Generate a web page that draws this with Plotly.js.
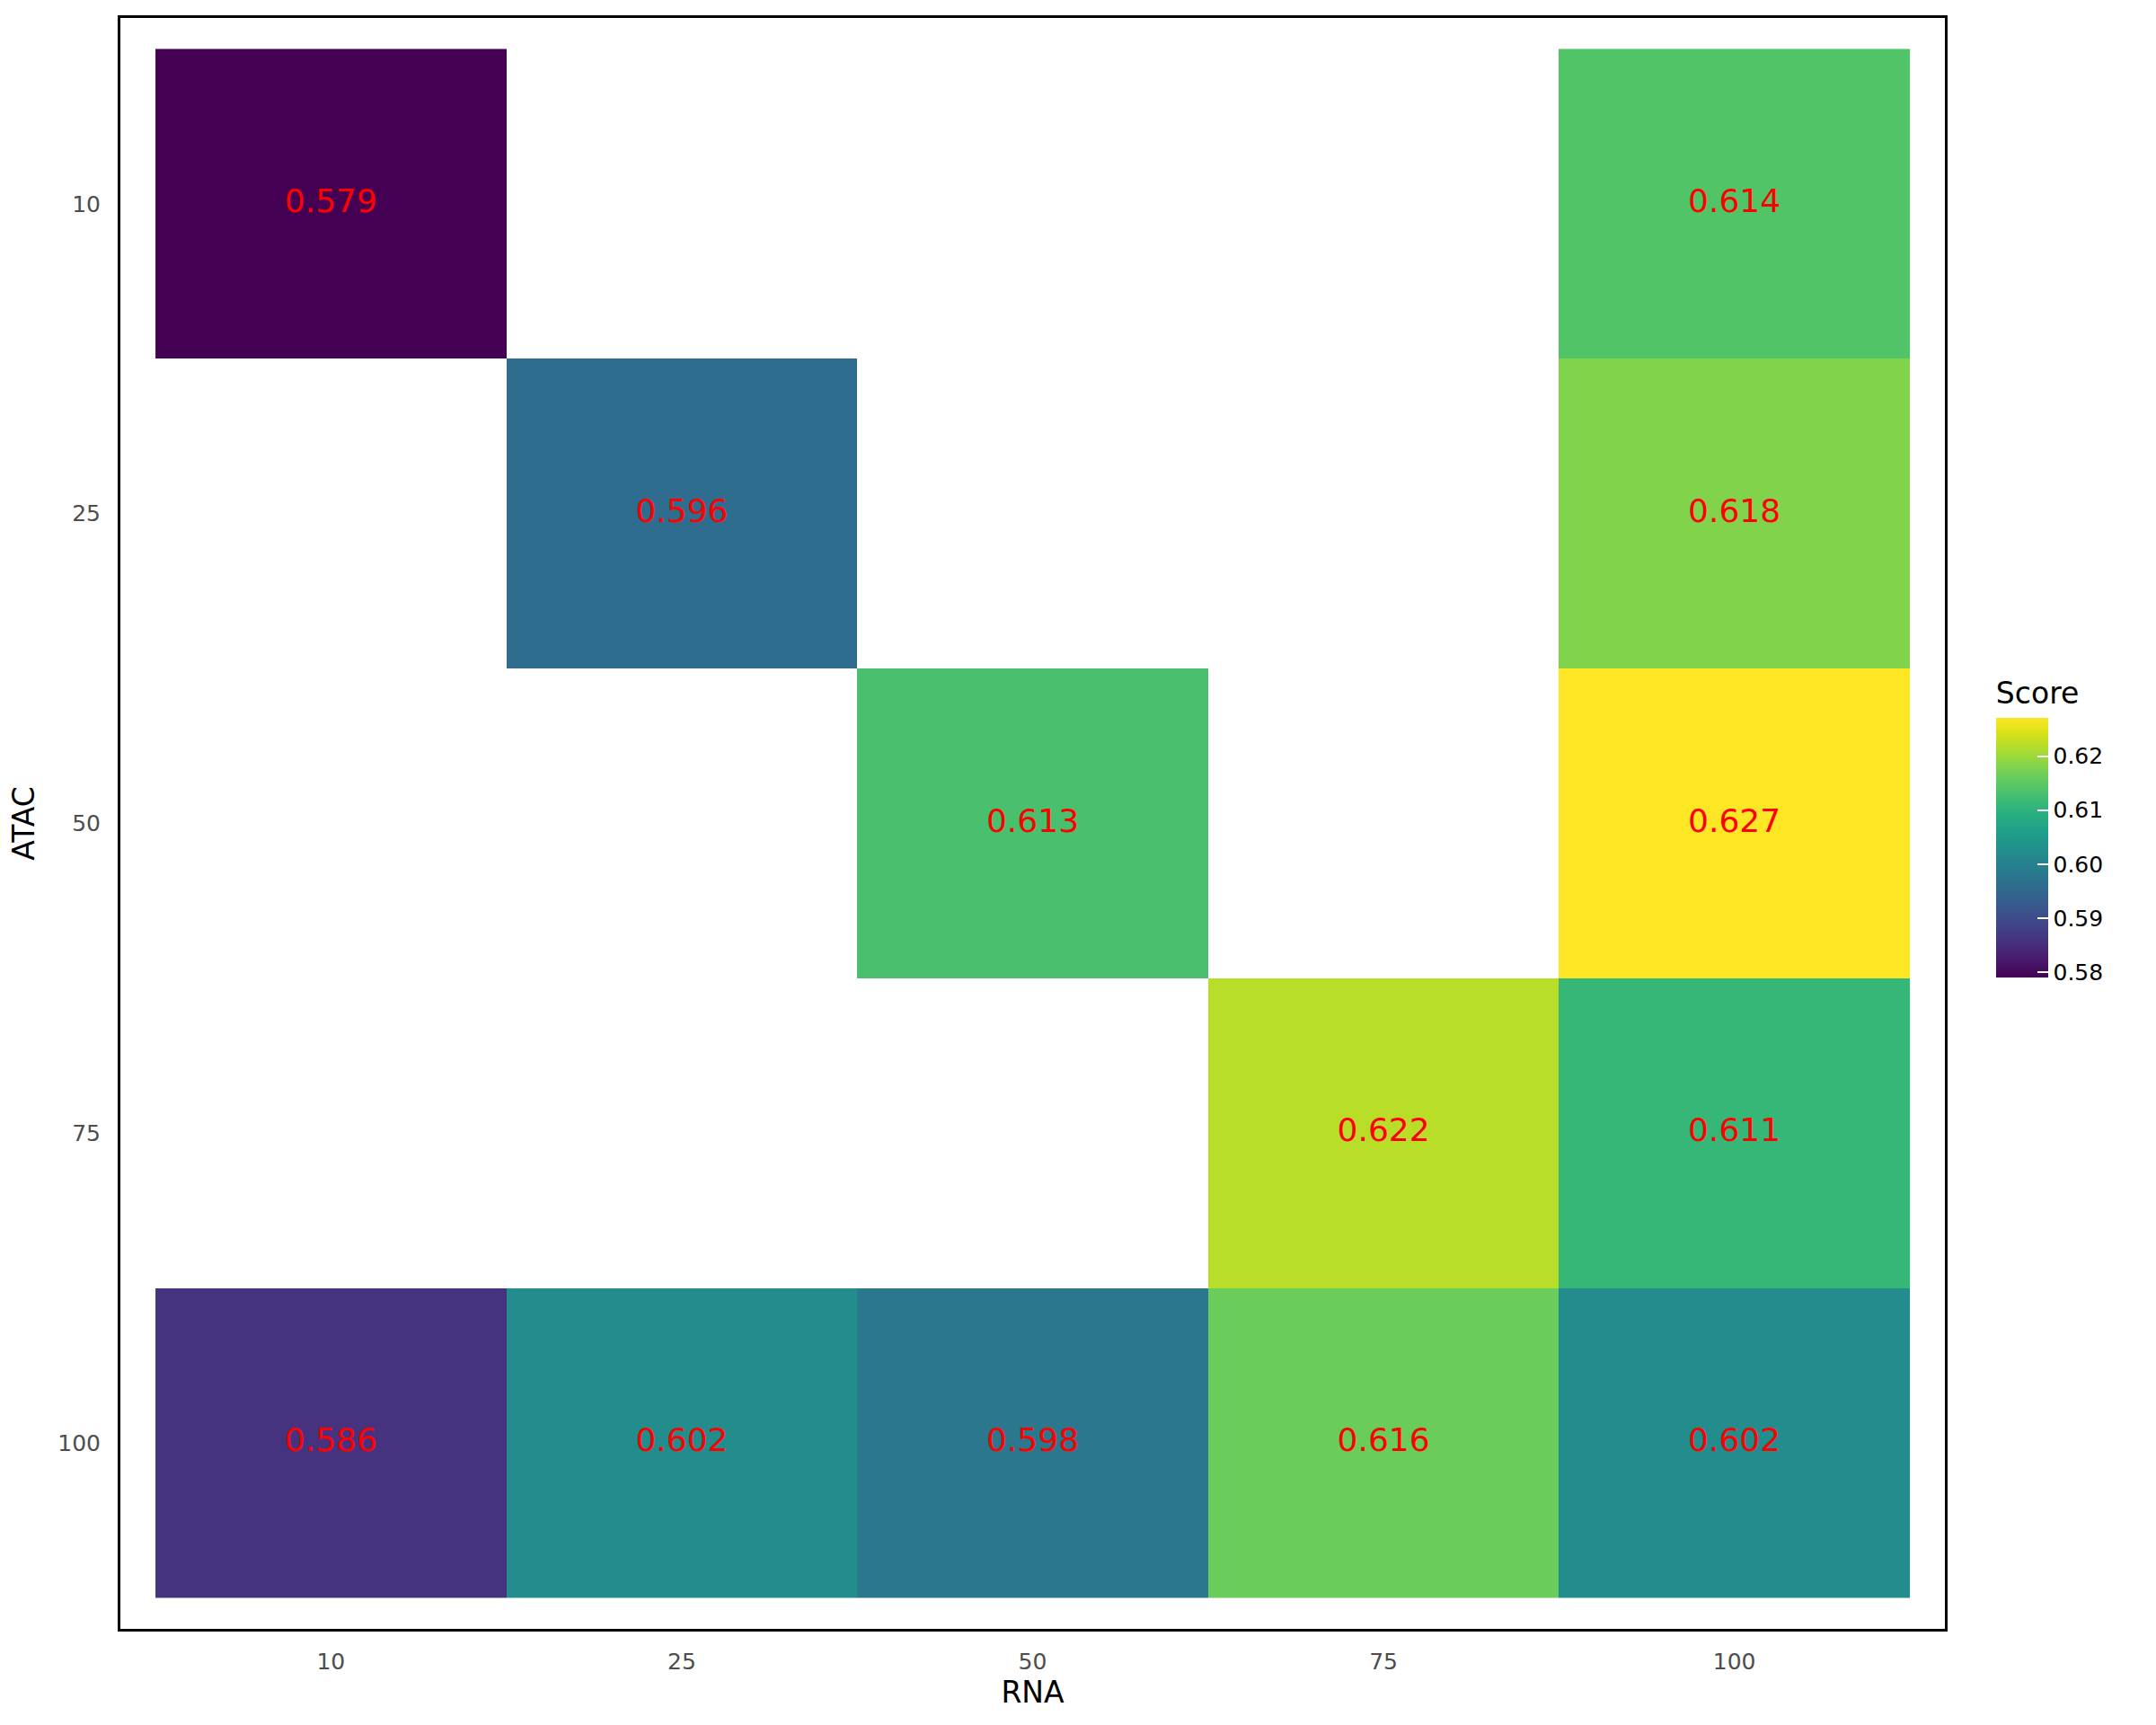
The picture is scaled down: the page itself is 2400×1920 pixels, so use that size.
<!DOCTYPE html>
<html>
<head>
<meta charset="utf-8">
<script src="https://cdn.plot.ly/plotly-3.0.1.min.js"></script>
<style>html,body{margin:0;padding:0;background:#fff;}#chart{width:2400px;height:1920px;}</style>
</head>
<body>
<div id="chart"></div>
<script>
const rnaLevels = ['10', '25', '50', '75', '100'];
const atacLevels = ['10', '25', '50', '75', '100'];
// rows = ATAC, columns = RNA
const score_atac10 = [0.579, null, null, null, 0.614];
const score_atac25 = [null, 0.596, null, null, 0.618];
const score_atac50 = [null, null, 0.613, null, 0.627];
const score_atac75 = [null, null, null, 0.622, 0.611];
const score_atac100 = [0.586, 0.602, 0.598, 0.616, 0.602];
const zMin = 0.579, zMax = 0.627;
const cbTicks = [0.58, 0.59, 0.60, 0.61, 0.62];
const cbTickText = ['0.58', '0.59', '0.60', '0.61', '0.62'];

const z = [score_atac10, score_atac25, score_atac50, score_atac75, score_atac100];

const tx = [], ty = [], tt = [];
z.forEach((row, i) => row.forEach((v, j) => {
  if (v !== null) { tx.push(rnaLevels[j]); ty.push(atacLevels[i]); tt.push(v.toFixed(3)); }
}));

const font = 'DejaVu Sans, sans-serif';
const data = [
  {
    type: 'heatmap', x: rnaLevels, y: atacLevels, z: z,
    zmin: zMin, zmax: zMax, colorscale: 'Viridis', hoverongaps: false,
    colorbar: {
      title: {text: 'Score', side: 'top', font: {family: font, size: 33, color: '#000'}},
      x: 1.028, xanchor: 'left', xpad: 0, y: 0.497, yanchor: 'middle', ypad: 0,
      thickness: 58, thicknessmode: 'pixels', len: 333, lenmode: 'pixels',
      outlinewidth: 0, tickvals: cbTicks, ticktext: cbTickText,
      ticks: 'inside', ticklen: 12, tickcolor: '#ffffff', tickwidth: 2,
      tickfont: {family: font, size: 25, color: '#000'}
    }
  },
  {
    type: 'scatter', mode: 'text', x: tx, y: ty, text: tt,
    textfont: {family: font, size: 36, color: '#ff0000'},
    hoverinfo: 'skip', showlegend: false
  }
];

const layout = {
  width: 2400, height: 1920,
  margin: {l: 134, r: 235, t: 20, b: 107},
  paper_bgcolor: '#fff', plot_bgcolor: '#fff',
  showlegend: false,
  xaxis: {
    type: 'category', categoryorder: 'array', categoryarray: rnaLevels,
    range: [-0.6, 4.6], showgrid: false, zeroline: false,
    showline: true, mirror: true, linecolor: '#000', linewidth: 3,
    ticks: '', ticklabelstandoff: 12,
    tickfont: {family: font, size: 25, color: '#4d4d4d'},
    title: {text: 'RNA', font: {family: font, size: 33, color: '#000'}, standoff: 4},
    automargin: false
  },
  yaxis: {
    type: 'category', categoryorder: 'array', categoryarray: atacLevels,
    range: [4.6, -0.6], showgrid: false, zeroline: false,
    showline: true, mirror: true, linecolor: '#000', linewidth: 3,
    ticks: '', ticklabelstandoff: 14,
    tickfont: {family: font, size: 25, color: '#4d4d4d'},
    title: {text: 'ATAC', font: {family: font, size: 33, color: '#000'}, standoff: 16},
    automargin: false
  }
};

Plotly.newPlot('chart', data, layout, {displayModeBar: false, staticPlot: true});
</script>
</body>
</html>
